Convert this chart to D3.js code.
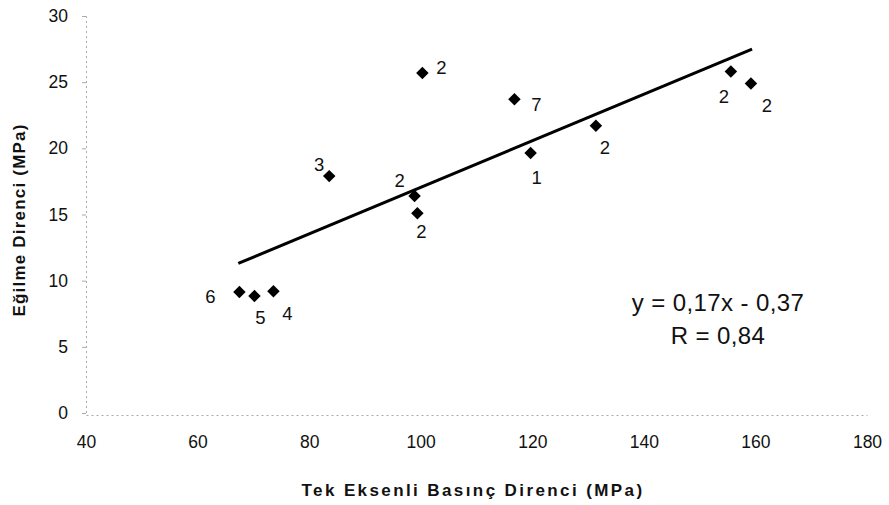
<!DOCTYPE html>
<html>
<head>
<meta charset="utf-8">
<script src="https://cdn.jsdelivr.net/npm/d3@7"></script>
<style>
  body { margin: 0; background: #fff; }
  text { font-family: "Liberation Sans", Arial, sans-serif; fill: #111; }
</style>
</head>
<body>
<div id="chart"></div>
<script>
var svgWidth = 889;
var svgHeight = 505;

var margin = { top: 16, right: 22, bottom: 92, left: 86 };
var width = svgWidth - margin.left - margin.right;
var height = svgHeight - margin.top - margin.bottom;

// data
var ucs = [67.5, 70.2, 73.6, 83.6, 100.3, 116.8, 119.7, 98.9, 99.4, 131.4, 155.6, 159.2];
var flexural = [9.15, 8.85, 9.2, 17.9, 25.7, 23.7, 19.65, 16.4, 15.1, 21.7, 25.8, 24.9];
var pointLabels = ["6", "5", "4", "3", "2", "7", "1", "2", "2", "2", "2", "2"];
var trendX = [67.3, 159.4];
var trendY = [11.3, 27.5];
var xTicks = [40, 60, 80, 100, 120, 140, 160, 180];
var yTicks = [0, 5, 10, 15, 20, 25, 30];
var equationLines = ["y = 0,17x - 0,37", "R = 0,84"];

// label offsets (px) from each point
var labelDx = [-29, 6, 14, -10, 19, 22, 6, -15, 4, 9, -7, 16];
var labelDy = [5, 22, 22, -12, -5, 5, 25, -15, 18, 22, 25, 22];

var svg = d3.select("#chart").append("svg")
  .attr("width", svgWidth)
  .attr("height", svgHeight);

var chartGroup = svg.append("g")
  .attr("transform", `translate(${margin.left}, ${margin.top})`);

var xScale = d3.scaleLinear().domain([40, 180]).range([0, width]);
var yScale = d3.scaleLinear().domain([0, 30]).range([height, 0]);

var bottomAxis = d3.axisBottom(xScale).tickValues(xTicks).tickSize(0).tickPadding(21);
var leftAxis = d3.axisLeft(yScale).tickValues(yTicks).tickSize(4).tickPadding(14);

var xAxis = chartGroup.append("g")
  .attr("transform", `translate(0, ${height + 2})`)
  .call(bottomAxis);

var yAxis = chartGroup.append("g")
  .call(leftAxis);

[xAxis, yAxis].forEach(function(ax) {
  ax.select(".domain")
    .attr("stroke", "#aaa")
    .attr("stroke-dasharray", "2,3");
  ax.selectAll(".tick line").attr("stroke", "#aaa");
  ax.selectAll(".tick text")
    .attr("font-size", "17.5px")
    .attr("font-family", "Liberation Sans, Arial, sans-serif")
    .attr("fill", "#111");
});

// trend line
var trend = trendX.map(function(d, i) { return [d, trendY[i]]; });
chartGroup.append("path")
  .datum(trend)
  .attr("fill", "none")
  .attr("stroke", "#000")
  .attr("stroke-width", 3)
  .attr("d", d3.line().x(d => xScale(d[0])).y(d => yScale(d[1])));

var points = ucs.map(function(d, i) {
  return { x: d, y: flexural[i], label: pointLabels[i], dx: labelDx[i], dy: labelDy[i] };
});

chartGroup.selectAll(".pt")
  .data(points)
  .enter()
  .append("path")
  .attr("class", "pt")
  .attr("d", d3.symbol().type(d3.symbolSquare).size(78))
  .attr("transform", d => `translate(${xScale(d.x)}, ${yScale(d.y)}) rotate(45)`)
  .attr("fill", "#000");

chartGroup.selectAll(".ptLabel")
  .data(points)
  .enter()
  .append("text")
  .attr("class", "ptLabel")
  .attr("x", d => xScale(d.x) + d.dx)
  .attr("y", d => yScale(d.y) + d.dy)
  .attr("dy", "0.35em")
  .attr("text-anchor", "middle")
  .attr("font-size", "18.5px")
  .text(d => d.label);

// equation
chartGroup.selectAll(".eq")
  .data(equationLines)
  .enter()
  .append("text")
  .attr("class", "eq")
  .attr("x", 632)
  .attr("y", (d, i) => 287 + i * 33)
  .attr("dy", "0.35em")
  .attr("text-anchor", "middle")
  .attr("font-size", "24px")
  .attr("letter-spacing", "0.4px")
  .text(d => d);

// axis titles
svg.append("text")
  .attr("x", 473)
  .attr("y", 490)
  .attr("dy", "0.35em")
  .attr("text-anchor", "middle")
  .attr("font-size", "17px")
  .attr("font-weight", "bold")
  .attr("letter-spacing", "2.4px")
  .text("Tek Eksenli Basınç Direnci (MPa)");

svg.append("text")
  .attr("transform", "translate(19, 220) rotate(-90)")
  .attr("dy", "0.35em")
  .attr("text-anchor", "middle")
  .attr("font-size", "17px")
  .attr("font-weight", "bold")
  .attr("letter-spacing", "1.2px")
  .text("Eğilme Direnci (MPa)");
</script>
</body>
</html>
